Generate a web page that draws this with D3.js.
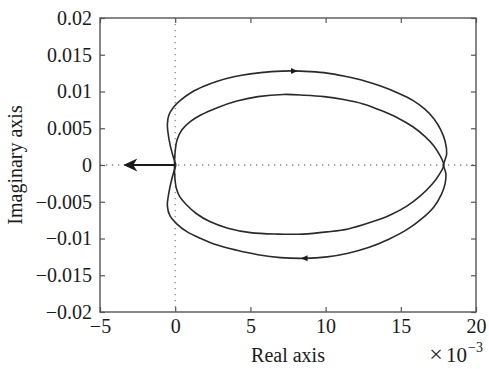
<!DOCTYPE html>
<html>
<head>
<meta charset="utf-8">
<script src="https://cdn.jsdelivr.net/npm/d3@7"></script>
<style>
  html, body { margin: 0; padding: 0; background: #fff; }
  svg { display: block; }
  text { font-family: "Liberation Serif", "Times New Roman", serif; fill: #1a1a1a; }
</style>
</head>
<body>
<svg id="chart" width="489" height="369"></svg>
<script>
// ---- data (real part in units of 1e-3, imaginary part) ----
const xTicks = [-5, 0, 5, 10, 15, 20];
const yTicks = [-0.02, -0.015, -0.01, -0.005, 0, 0.005, 0.01, 0.015, 0.02];
const xTickLabels = ["\u22125", "0", "5", "10", "15", "20"];
const yTickLabels = ["\u22120.02", "\u22120.015", "\u22120.01", "\u22120.005", "0", "0.005", "0.01", "0.015", "0.02"];

const outerRe = [0.05, -0.2, -0.42, -0.52, -0.42, -0.1, 0.4, 1.1, 1.9, 2.8, 3.9, 5.0, 6.4, 7.8, 9.0, 10.1, 11.2, 12.5, 13.7, 14.8, 15.8, 16.6, 17.2, 17.65, 17.95, 18.05, 17.85,
  18.0, 17.95, 17.7, 17.2, 16.4, 15.4, 14.2, 12.9, 11.5, 10.1, 8.6, 7.0, 5.5, 4.1, 2.8, 1.7, 0.8, 0.1, -0.35, -0.52, -0.44, -0.2, 0.05];
const outerIm = [0, 0.0016, 0.0036, 0.0055, 0.0068, 0.0079, 0.0089, 0.0099, 0.0107, 0.0114, 0.0120, 0.0124, 0.0127, 0.0128, 0.0127, 0.0125, 0.0121, 0.0115, 0.0107, 0.0098, 0.0088, 0.0076, 0.0063, 0.0048, 0.0032, 0.0015, 0,
  -0.0012, -0.0025, -0.0040, -0.0057, -0.0073, -0.0088, -0.0101, -0.0112, -0.0120, -0.0125, -0.0127, -0.0126, -0.0122, -0.0116, -0.0109, -0.0100, -0.0091, -0.0080, -0.0069, -0.0056, -0.0040, -0.0017, 0];

const innerRe = [-0.05, 0.0, 0.12, 0.45, 1.0, 1.7, 2.8, 4.1, 5.5, 7.2, 8.6, 9.9, 11.2, 12.5, 13.7, 14.8, 15.8, 16.6, 17.2, 17.6, 17.85,
  17.55, 17.05, 16.3, 15.4, 14.3, 13.0, 11.5, 10.1, 8.5, 6.8, 5.0, 3.5, 2.3, 1.4, 0.75, 0.3, 0.08, -0.02, -0.05];
const innerIm = [0, 0.0019, 0.0034, 0.0048, 0.0059, 0.0068, 0.0078, 0.0087, 0.0093, 0.0096, 0.0095, 0.0093, 0.0089, 0.0083, 0.0074, 0.0064, 0.0052, 0.0039, 0.0026, 0.0013, 0,
  -0.0013, -0.0027, -0.0042, -0.0056, -0.0068, -0.0078, -0.0087, -0.0091, -0.0094, -0.0094, -0.0092, -0.0086, -0.0077, -0.0066, -0.0054, -0.0043, -0.0032, -0.0018, 0];

// direction markers on outer curve (direction +1 = pointing right, -1 = pointing left)
const markerRe = [7.9, 8.6];
const markerIm = [0.0128, -0.0127];
const markerDir = [1, -1];

// large arrow along negative real axis
const bigArrowFrom = [0, 0];
const bigArrowTo = [-3.45, 0];

// ---- layout ----
const svg = d3.select("#chart");
const W = 489, H = 369;
const m = { left: 100, top: 18, right: 13, bottom: 57 };
const pw = W - m.left - m.right, ph = H - m.top - m.bottom;

const x = d3.scaleLinear().domain([-5, 20]).range([m.left, m.left + pw]);
const y = d3.scaleLinear().domain([-0.02, 0.02]).range([m.top + ph, m.top]);

const axisColor = "#555";
const fontSize = 20;

// dotted zero lines
svg.append("line")
  .attr("x1", x(0)).attr("x2", x(0)).attr("y1", m.top).attr("y2", m.top + ph)
  .attr("stroke", "#888").attr("stroke-width", 1.3).attr("stroke-dasharray", "1.3,4.7");
svg.append("line")
  .attr("x1", m.left).attr("x2", m.left + pw).attr("y1", y(0)).attr("y2", y(0))
  .attr("stroke", "#888").attr("stroke-width", 1.3).attr("stroke-dasharray", "1.3,4.7");

// axes
const ax = svg.append("g").attr("transform", `translate(0,${m.top + ph})`)
  .call(d3.axisBottom(x).tickValues(xTicks).tickSize(-5).tickPadding(7)
    .tickFormat((d, i) => xTickLabels[i]));
const ay = svg.append("g").attr("transform", `translate(${m.left},0)`)
  .call(d3.axisLeft(y).tickValues(yTicks).tickSize(-5).tickPadding(8)
    .tickFormat((d, i) => yTickLabels[i]));
const axTop = svg.append("g").attr("transform", `translate(0,${m.top})`)
  .call(d3.axisTop(x).tickValues(xTicks).tickSize(-5).tickFormat(""));
const ayRight = svg.append("g").attr("transform", `translate(${m.left + pw},0)`)
  .call(d3.axisRight(y).tickValues(yTicks).tickSize(-5).tickFormat(""));

[ax, ay, axTop, ayRight].forEach(g => {
  g.select(".domain").remove();
  g.selectAll(".tick line").attr("stroke", axisColor).attr("stroke-width", 1.2);
  g.selectAll(".tick text").attr("font-size", fontSize)
    .attr("font-family", "'Liberation Serif', 'Times New Roman', serif").attr("fill", "#1a1a1a");
});

// frame
svg.append("rect")
  .attr("x", m.left).attr("y", m.top).attr("width", pw).attr("height", ph)
  .attr("fill", "none").attr("stroke", axisColor).attr("stroke-width", 1.4);

// curves
const line = d3.line().x(d => x(d[0])).y(d => y(d[1])).curve(d3.curveCatmullRom.alpha(0.5));
const outer = outerRe.map((r, i) => [r, outerIm[i]]);
const inner = innerRe.map((r, i) => [r, innerIm[i]]);
[outer, inner].forEach(pts => {
  svg.append("path").attr("d", line(pts))
    .attr("fill", "none").attr("stroke", "#2a2a2a").attr("stroke-width", 1.6)
    .attr("stroke-linejoin", "round");
});

// direction markers
markerRe.forEach((r, i) => {
  const cx = x(r), cy = y(markerIm[i]), d = markerDir[i];
  svg.append("path")
    .attr("d", `M${cx + 3.5 * d},${cy} L${cx - 3 * d},${cy - 3} L${cx - 3 * d},${cy + 3} Z`)
    .attr("fill", "#1a1a1a");
});

// big arrow
const ax0 = x(bigArrowFrom[0]), ay0 = y(bigArrowFrom[1]);
const ax1 = x(bigArrowTo[0]), ay1 = y(bigArrowTo[1]);
svg.append("line").attr("x1", ax0).attr("y1", ay0).attr("x2", ax1 + 8).attr("y2", ay1)
  .attr("stroke", "#1a1a1a").attr("stroke-width", 1.8);
svg.append("path")
  .attr("d", `M${ax1},${ay1} L${ax1 + 14},${ay1 - 6.5} L${ax1 + 10},${ay1} L${ax1 + 14},${ay1 + 6.5} Z`)
  .attr("fill", "#1a1a1a");

// axis titles
svg.append("text").attr("x", m.left + pw / 2).attr("y", 362)
  .attr("text-anchor", "middle").attr("font-size", fontSize).text("Real axis");
svg.append("text").attr("transform", `translate(22,${m.top + ph / 2}) rotate(-90)`)
  .attr("text-anchor", "middle").attr("font-size", fontSize).text("Imaginary axis");

// exponent label
svg.append("text").attr("x", 436).attr("y", 362).attr("text-anchor", "middle")
  .attr("font-size", 24).text("\u00d7");
svg.append("text").attr("x", 446).attr("y", 362).attr("font-size", 21).text("10");
svg.append("text").attr("x", 468).attr("y", 352).attr("font-size", 14).text("\u22123");
</script>
</body>
</html>
